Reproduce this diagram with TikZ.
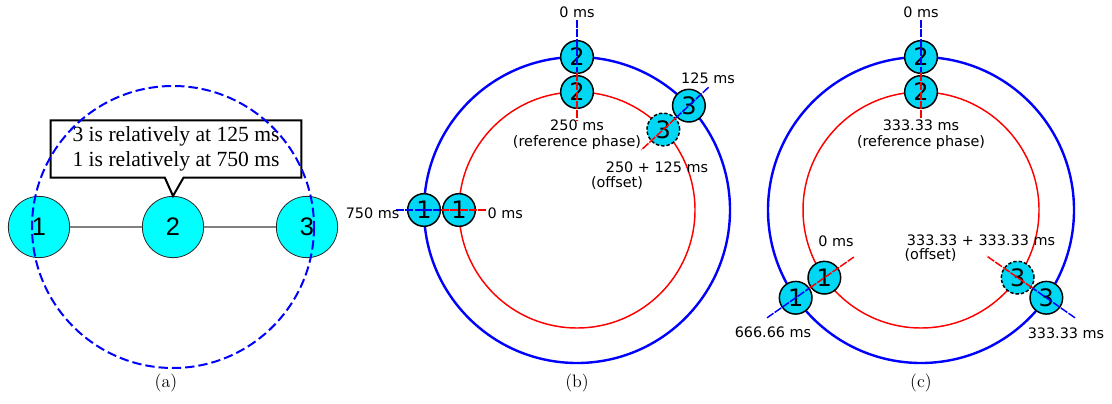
\documentclass[tikz,border=0pt]{standalone}
\usepackage{fontspec}
\usepackage{tikz}
\usetikzlibrary{calc, shapes.callouts}
\newfontfamily\dejavu{DejaVu Sans}
\newfontfamily\arialish{Liberation Sans}
\newfontfamily\timesish{Liberation Serif}
\definecolor{peerCyan}{RGB}{0, 215, 245}
\definecolor{rowCyan}{RGB}{0, 255, 255}
\definecolor{ringBlue}{RGB}{0, 0, 255}
\definecolor{ringRed}{RGB}{255, 0, 0}

\tikzset{
  peer/.style={circle, draw, line width=1.1pt, fill=peerCyan, minimum size=24.5pt,
               inner sep=0pt, font=\dejavu\fontsize{18}{18}\selectfont},
  ghost/.style={peer, dash pattern=on 2.5pt off 1.5pt},
  rowpeer/.style={circle, draw=black!85, line width=0.6pt, fill=rowCyan, minimum size=46pt,
                  inner sep=0pt, font=\arialish\fontsize{19}{19}\selectfont},
  msLabel/.style={font=\dejavu\fontsize{10.8}{12}\selectfont, align=center, inner sep=1pt},
  tick/.style={line width=1.1pt, dash pattern=on 6pt off 1pt},
  subLabel/.style={font=\fontsize{13.5}{15}\selectfont},
}

\begin{document}
\begin{tikzpicture}[x=0.75pt, y=-0.75pt]
  \useasboundingbox (0,0) rectangle (1112,403);

  % (a) peers on a line
  \node[rowpeer] (a1) at (39,227) {1};
  \node[rowpeer] (a2) at (173,227) {2};
  \node[rowpeer] (a3) at (307,227) {3};
  \draw[gray, line width=0.9pt] (a1) -- (a2) (a2) -- (a3);
  \node[rectangle callout, draw, line width=1.5pt, fill=white, minimum width=188pt, minimum height=43pt,
        callout absolute pointer={(a2.north)}, callout pointer width=14pt,
        font=\timesish\fontsize{16.2}{18.75}\selectfont, align=center] (note) at (176,149)
        {3 is relatively at 125 ms\\1 is relatively at 750 ms};
  \draw[ringBlue, line width=1.5pt, dash pattern=on 7pt off 3pt] (a2) circle (141);
  \node[subLabel] (capA) at (166,383) {(a)};

  % (b) two rings, offset of 125 ms
  \coordinate (cb) at (577,210);
  \draw[ringBlue, line width=1.8pt] (cb) circle (153);
  \draw[ringRed, line width=1.1pt] (cb) circle (118);
  \node[peer] (b2o) at ($(cb)+(-90:153)$) {2};
  \node[peer] (b2i) at ($(cb)+(-90:118)$) {2};
  \node[peer] (b1o) at ($(cb)+(180:153)$) {1};
  \node[peer] (b1i) at ($(cb)+(180:118)$) {1};
  \node[peer] (b3o) at ($(cb)+(-43:153)$) {3};
  \node[ghost] (b3i) at ($(cb)+(-43:118)$) {3};
  \draw[ringBlue, tick] ($(cb)+(-90:190)$) -- ($(cb)+(-90:138)$);
  \draw[ringRed, tick] ($(cb)+(-90:137)$) -- ($(cb)+(-90:90)$);
  \draw[ringBlue, tick] ($(cb)+(180:181)$) -- ($(cb)+(180:137)$);
  \draw[ringRed, tick] ($(cb)+(180:136)$) -- ($(cb)+(180:90)$);
  \draw[ringBlue, tick] ($(cb)+(-43:180)$) -- ($(cb)+(-43:135)$);
  \draw[ringRed, tick] ($(cb)+(-43:135)$) -- ($(cb)+(-43:88)$);
  \node[msLabel] (b0top) at (577,12) {0 ms};
  \node[msLabel] (b125) at (708,78) {125 ms};
  \node[msLabel] (bref) at (577,135) {250 ms\\(reference phase)};
  \node[msLabel] (bsum) at (657,167) {250 + 125 ms};
  \node[msLabel] (boff) at (617,183) {(offset)};
  \node[msLabel, anchor=east] (b750) at (401,213) {750 ms};
  \node[msLabel, anchor=west] (b0in) at (486,213) {0 ms};
  \node[subLabel] (capB) at (577,383) {(b)};

  % (c) two rings, offset of 333.33 ms
  \coordinate (cc) at (921,210);
  \draw[ringBlue, line width=1.8pt] (cc) circle (153);
  \draw[ringRed, line width=1.1pt] (cc) circle (118);
  \node[peer] (c2o) at ($(cc)+(-90:153)$) {2};
  \node[peer] (c2i) at ($(cc)+(-90:118)$) {2};
  \node[peer] (c1o) at ($(cc)+(145:153)$) {1};
  \node[peer] (c1i) at ($(cc)+(145:118)$) {1};
  \node[peer] (c3o) at ($(cc)+(35:153)$) {3};
  \node[ghost] (c3i) at ($(cc)+(35:118)$) {3};
  \draw[ringBlue, tick] ($(cc)+(-90:190)$) -- ($(cc)+(-90:138)$);
  \draw[ringRed, tick] ($(cc)+(-90:137)$) -- ($(cc)+(-90:90)$);
  \draw[ringBlue, tick] ($(cc)+(145:188)$) -- ($(cc)+(145:136)$);
  \draw[ringRed, tick] ($(cc)+(145:136)$) -- ($(cc)+(145:82)$);
  \draw[ringBlue, tick] ($(cc)+(35:188)$) -- ($(cc)+(35:136)$);
  \draw[ringRed, tick] ($(cc)+(35:136)$) -- ($(cc)+(35:80)$);
  \node[msLabel] (c0top) at (921,12) {0 ms};
  \node[msLabel] (cref) at (921,135) {333.33 ms\\(reference phase)};
  \node[msLabel] (c0in) at (836,241) {0 ms};
  \node[msLabel] (c666) at (773,332) {666.66 ms};
  \node[msLabel] (csum) at (981,240) {333.33 + 333.33 ms};
  \node[msLabel, anchor=west] (coff) at (903,255) {(offset)};
  \node[msLabel] (c333) at (1066,333) {333.33 ms};
  \node[subLabel] (capC) at (921,383) {(c)};
\end{tikzpicture}
\end{document}
